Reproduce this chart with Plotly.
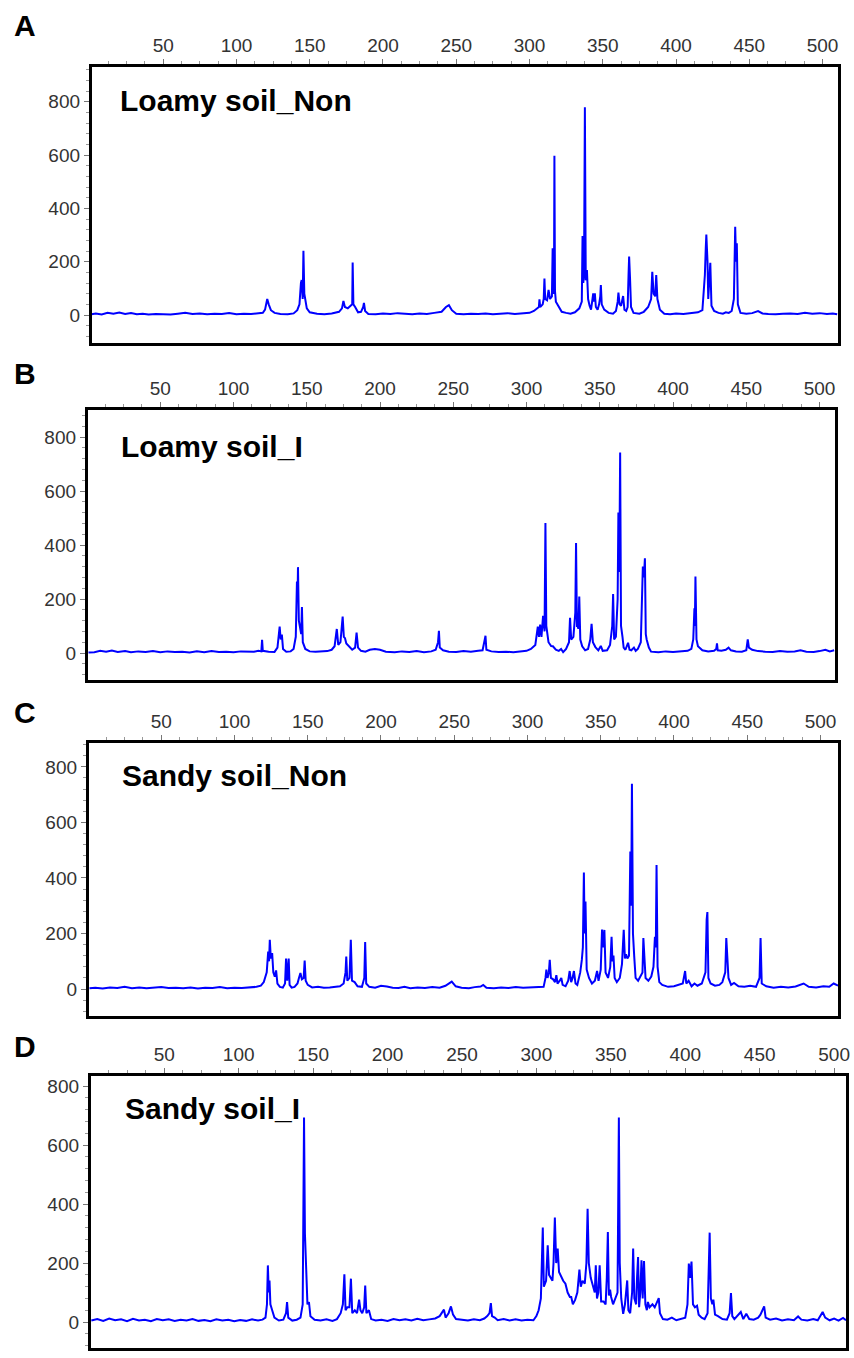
import plotly.graph_objects as go

# peak traces: (size, signal) pairs
loamy_non = [
    (1, 3), (4, 6), (8, 2), (12, 8), (16, 5), (20, 9), (24, 4), (28, 7), (32, 3), (36, 5), (40, 2),
    (45, 4), (50, 3), (55, 2), (60, 5), (65, 8), (70, 4), (75, 6), (80, 3), (85, 5), (90, 4), (95, 7),
    (100, 3), (105, 5), (110, 4), (114, 6), (118, 8), (119.5, 20), (120.5, 55), (121, 60), (122, 40),
    (123.5, 18), (126, 8), (130, 4), (135, 3), (139, 6), (141.5, 18), (143, 40), (144, 120), (144.5, 131),
    (145.2, 60), (145.7, 241), (146.3, 80), (147, 60), (148, 25), (150, 10), (155, 5), (160, 3), (165, 6),
    (170, 12), (172, 25), (173, 53), (174, 30), (176, 25), (178, 35), (179, 40), (179.3, 197), (179.8, 40),
    (181, 30), (183, 10), (185, 12), (186.5, 30), (187, 45), (187.8, 15), (190, 4), (195, 3), (200, 6),
    (205, 4), (210, 7), (215, 5), (220, 3), (225, 6), (230, 4), (235, 8), (240, 12), (243, 30), (245, 37),
    (247, 18), (250, 5), (255, 3), (260, 5), (265, 4), (270, 6), (275, 3), (280, 5), (285, 7), (290, 4),
    (295, 6), (300, 8), (303, 15), (305, 25), (306.4, 30), (306.8, 59), (307.3, 30), (309, 40),
    (309.7, 60), (310.2, 137), (310.7, 60), (312, 55), (313, 94), (314, 60), (315.3, 70), (315.8, 250),
    (316.3, 80), (316.7, 90), (317, 597), (317.4, 90), (318, 50), (320, 30), (322, 12), (325, 8),
    (328, 5), (331, 10), (334, 25), (335.7, 50), (336.2, 296), (336.7, 120), (337.2, 150), (337.8, 779),
    (338.4, 130), (339.2, 169), (340, 60), (341, 35), (342, 20), (343, 60), (343.5, 81), (344, 50),
    (344.6, 81), (345.3, 30), (346.5, 20), (347.5, 40), (348.3, 70), (348.7, 112), (349.3, 40),
    (351, 20), (354, 8), (357, 5), (359, 15), (360.2, 50), (360.7, 84), (361.5, 40), (362.5, 35),
    (363.9, 71), (364.8, 20), (366, 15), (367, 30), (367.6, 150), (368, 219), (368.6, 140), (369.3, 30),
    (371, 8), (375, 5), (378, 12), (381, 30), (383, 60), (383.8, 162), (384.7, 80), (385.8, 70),
    (386.5, 150), (387.3, 60), (389, 20), (392, 5), (396, 3), (400, 6), (405, 4), (410, 7), (415, 10),
    (418, 18), (419.7, 150), (420.3, 250), (420.7, 302), (421.5, 200), (422, 60), (423.4, 196),
    (424.2, 35), (426, 15), (429, 8), (432, 5), (434, 10), (436, 8), (438, 15), (439.5, 60),
    (440.4, 331), (441, 200), (441.5, 269), (442.2, 40), (444, 8), (448, 5), (452, 7), (456, 15),
    (459, 6), (463, 4), (468, 3), (473, 5), (478, 6), (483, 4), (488, 8), (493, 5), (498, 7), (503, 4),
    (507, 6), (510, 3),
]

loamy_i = [
    (1, 2), (5, 3), (9, 8), (13, 5), (17, 9), (21, 4), (26, 7), (30, 3), (35, 6), (40, 4), (45, 7),
    (50, 3), (55, 6), (60, 4), (65, 5), (70, 2), (75, 6), (80, 3), (85, 7), (90, 4), (95, 5), (100, 3),
    (105, 6), (110, 4), (114, 5), (117, 8), (119, 6), (119.5, 49), (120, 8), (124, 5), (128, 4),
    (130, 20), (131.5, 98), (132.2, 50), (133, 68), (133.8, 15), (136, 5), (139, 6), (141, 15),
    (142.5, 60), (143.3, 265), (143.7, 200), (144, 318), (144.6, 120), (145.5, 90), (146.2, 70),
    (146.7, 170), (147.3, 40), (149, 15), (152, 6), (156, 5), (160, 6), (164, 7), (167, 12), (169, 25),
    (170.5, 89), (171.5, 30), (173, 40), (174.5, 135), (175.3, 60), (176.1, 55), (177, 35), (179, 25),
    (181, 12), (183, 20), (184, 76), (185, 20), (187, 8), (190, 5), (193, 12), (196.5, 15), (200, 12),
    (204, 5), (210, 3), (215, 6), (220, 4), (225, 7), (230, 3), (235, 6), (238, 12), (239.6, 40),
    (240.2, 82), (240.8, 20), (243, 10), (247, 5), (252, 4), (257, 7), (262, 5), (267, 8), (270, 10),
    (271.5, 50), (272, 64), (272.6, 12), (276, 6), (281, 4), (286, 5), (291, 3), (296, 7), (300, 8),
    (303, 15), (306, 30), (307.7, 98), (308.5, 60), (309.3, 105), (310.2, 60), (311.3, 138),
    (312.3, 80), (312.9, 481), (313.5, 100), (315, 40), (316.8, 26), (318, 25), (320, 12), (322, 8),
    (323.6, 15), (325, 3), (327, 15), (329, 40), (329.7, 130), (330.5, 50), (332, 60), (333.3, 150),
    (333.8, 407), (334.4, 100), (334.8, 100), (335.4, 90), (336, 209), (336.7, 50), (338, 25),
    (340, 10), (342, 15), (343.5, 50), (344.4, 108), (345.3, 40), (347, 22), (349, 10), (350.7, 26),
    (352, 8), (355, 10), (357, 30), (358.5, 100), (359.1, 218), (359.8, 50), (361, 60), (362.2, 200),
    (362.7, 520), (363.3, 300), (363.9, 743), (364.5, 100), (365.5, 60), (366.3, 20), (367.5, 12),
    (369.3, 38), (370.3, 12), (371.5, 10), (373.3, 20), (374.5, 8), (376, 15), (378, 40), (378.8, 200),
    (379.4, 320), (380.1, 280), (380.8, 351), (381.4, 70), (382, 50), (383.5, 20), (385, 5), (390, 3),
    (395, 6), (400, 4), (405, 7), (410, 8), (412.5, 15), (413.8, 50), (414.6, 166), (414.9, 100),
    (415.3, 283), (416, 50), (417, 25), (420, 10), (424, 6), (428, 8), (429.5, 15), (430, 36),
    (430.5, 10), (433, 8), (436, 12), (437.9, 20), (439.5, 10), (443, 6), (447, 5), (450, 10),
    (451, 50), (451.8, 20), (454, 12), (458, 7), (463, 5), (468, 4), (473, 7), (478, 5), (483, 6),
    (487, 10), (491, 5), (496, 4), (500, 7), (504, 12), (507, 6), (510, 10),
]

sandy_non = [
    (1, 3), (5, 5), (10, 2), (15, 6), (20, 4), (25, 8), (30, 3), (35, 6), (40, 3), (45, 5), (50, 7),
    (55, 4), (60, 5), (65, 3), (70, 6), (75, 2), (80, 5), (85, 4), (90, 7), (95, 3), (100, 5), (105, 4),
    (110, 6), (115, 8), (118, 12), (120, 25), (122, 60), (123, 135), (123.6, 100), (124.1, 177),
    (124.8, 110), (125.7, 130), (126.5, 60), (127.5, 45), (128.4, 67), (129.3, 20), (131, 8), (133, 5),
    (134.5, 20), (135.2, 110), (136, 30), (137, 110), (137.6, 15), (139, 5), (141, 8), (143, 20),
    (144, 40), (145, 58), (146, 35), (147.2, 40), (147.9, 103), (148.6, 30), (150, 15), (153, 6),
    (157, 8), (161, 5), (165, 6), (169, 8), (172, 10), (174.5, 20), (175.8, 60), (176.3, 117),
    (177, 30), (178.5, 40), (179.4, 177), (180.2, 30), (182, 25), (184, 10), (187, 8), (188.6, 40),
    (189.2, 169), (189.9, 20), (192, 8), (196, 5), (200, 12), (204, 9), (208, 5), (212, 4), (216, 8),
    (220, 3), (225, 6), (230, 4), (235, 7), (240, 5), (244, 12), (248.3, 27), (251, 10), (255, 5),
    (260, 3), (264, 7), (268, 9), (269.8, 15), (272, 5), (277, 3), (282, 6), (287, 4), (292, 7),
    (297, 5), (302, 6), (307, 5), (311, 8), (312.3, 40), (312.9, 70), (313.7, 40), (314.6, 60),
    (315.2, 105), (316, 40), (317.5, 35), (318.8, 25), (319.7, 50), (320.5, 20), (322, 30),
    (323.1, 40), (324, 15), (326, 10), (327.8, 30), (328.8, 65), (329.8, 25), (330.8, 40), (331.7, 65),
    (332.8, 20), (334, 15), (336, 60), (337.1, 105), (337.8, 150), (338.5, 420), (339, 200),
    (339.6, 315), (340.4, 70), (342, 40), (344, 20), (346, 30), (347.5, 65), (348.5, 30), (350, 70),
    (350.9, 214), (351.6, 150), (352.5, 213), (353.3, 60), (355, 40), (356.5, 80), (357.4, 188),
    (358, 100), (358.7, 121), (359.5, 40), (361, 25), (363, 40), (364.5, 90), (365.7, 213),
    (366.5, 110), (367.3, 125), (368.2, 110), (369.3, 120), (370.2, 495), (370.8, 300), (371.3, 739),
    (372, 200), (372.9, 114), (373.8, 40), (375.5, 30), (377.5, 50), (378.5, 60), (379.1, 184),
    (379.7, 100), (380.6, 40), (382.5, 30), (384.5, 45), (386, 80), (387, 188), (387.6, 150),
    (388.1, 447), (388.8, 80), (390, 25), (392, 15), (396, 8), (400, 10), (404, 15), (406, 20),
    (407.6, 65), (408.4, 20), (410, 30), (412, 10), (414, 20), (416, 12), (419, 20), (421.5, 60),
    (422.3, 250), (422.8, 277), (423.5, 40), (425, 20), (428, 12), (431, 15), (433, 25), (435, 60),
    (435.7, 184), (436.4, 110), (437.2, 40), (439, 15), (441, 22), (444, 10), (448, 8), (452, 12),
    (456, 8), (458.4, 40), (459.1, 184), (459.9, 20), (463, 10), (468, 5), (473, 8), (478, 6),
    (483, 9), (488.5, 20), (492, 8), (497, 6), (502, 10), (506, 8), (509, 20), (512, 12),
]

sandy_i = [
    (1, 5), (5, 10), (9, 4), (13, 12), (17, 6), (21, 9), (25, 3), (29, 11), (33, 5), (37, 8), (41, 3),
    (45, 10), (49, 6), (53, 9), (57, 4), (61, 8), (65, 5), (69, 10), (73, 4), (77, 7), (81, 3), (85, 9),
    (89, 5), (93, 8), (97, 3), (101, 7), (105, 4), (109, 9), (113, 5), (116, 8), (118, 15), (119, 60),
    (119.6, 192), (120.2, 100), (120.7, 141), (121.3, 60), (122.5, 40), (124, 15), (127, 5), (130, 8),
    (131.8, 30), (132.5, 68), (133.3, 15), (136, 5), (139, 8), (141.5, 15), (143, 60), (143.9, 693),
    (144.5, 300), (145.3, 209), (146.2, 60), (147.2, 68), (148.2, 20), (151, 8), (155, 5), (159, 9),
    (163, 4), (166, 10), (168.5, 30), (170, 60), (171, 162), (171.8, 40), (173, 50), (174.4, 50),
    (175.4, 147), (176.3, 30), (178, 40), (179.5, 30), (180.9, 76), (181.8, 40), (183, 30),
    (184.3, 50), (185, 124), (185.8, 30), (187.5, 40), (189, 10), (192, 5), (196, 8), (200, 4),
    (204, 10), (208, 6), (212, 9), (216, 5), (220, 11), (224, 6), (228, 9), (232, 12), (235, 20),
    (237.9, 42), (239, 15), (241, 30), (242.6, 53), (244, 25), (246, 10), (250, 8), (254, 5), (258, 9),
    (262, 6), (265, 12), (267, 20), (268.5, 30), (269.4, 64), (270.2, 20), (272, 15), (274, 6),
    (278, 10), (282, 5), (286, 9), (290, 5), (294, 8), (298, 6), (300, 20), (301.5, 40), (303, 80),
    (304.3, 320), (305, 120), (306.5, 140), (307.6, 260), (308.5, 160), (309.5, 150), (310.8, 140),
    (311.5, 200), (312.4, 354), (313.3, 200), (314.3, 249), (315.2, 170), (316.6, 153), (318, 140),
    (319.5, 130), (321, 100), (322.5, 85), (323.4, 85), (324.5, 60), (326, 75), (327.5, 100),
    (328.9, 178), (329.8, 120), (331, 140), (332.5, 130), (333.6, 200), (334.4, 384), (335.2, 200),
    (336.5, 150), (338, 120), (339.2, 100), (339.9, 192), (340.7, 80), (341.6, 100), (342.5, 192),
    (343.5, 70), (345.1, 70), (346.5, 60), (347.3, 150), (348, 305), (348.7, 90), (349.5, 110),
    (350.2, 85), (351.5, 60), (353, 80), (354.5, 100), (355.4, 693), (356, 200), (357, 80),
    (358.3, 28), (359.5, 60), (360.4, 100), (361, 141), (361.8, 40), (363, 30), (364.3, 100),
    (365, 249), (365.8, 80), (367, 60), (367.6, 150), (368.3, 220), (369, 50), (369.8, 100),
    (370.6, 209), (371.4, 80), (372.3, 207), (373.2, 60), (374.2, 40), (374.9, 68), (376, 50),
    (378, 60), (379.5, 50), (381, 70), (382.2, 81), (383, 30), (385, 10), (388, 8), (391, 15), (394, 6),
    (397, 10), (400, 15), (401.5, 60), (402.4, 198), (403.2, 150), (404.2, 205), (405.2, 60),
    (406.5, 50), (407.9, 55), (409, 25), (411, 15), (413, 10), (415, 30), (415.8, 150), (416.4, 303),
    (417.2, 80), (418.2, 60), (418.9, 76), (420, 25), (422, 20), (425, 10), (428, 8), (429.8, 30),
    (430.7, 98), (431.6, 20), (433, 10), (435, 20), (437.3, 34), (439, 10), (441, 28), (443, 10),
    (446, 8), (449, 15), (450.5, 25), (453, 53), (454, 15), (457, 8), (461, 12), (465, 5), (469, 9),
    (473, 6), (475.8, 19), (478, 8), (482, 5), (486, 10), (489, 6), (492.3, 34), (494, 15), (497, 6),
    (500, 12), (503, 5), (506, 14), (508, 6),
]

letters = ["A", "B", "C", "D"]
names = ["Loamy soil_Non", "Loamy soil_I", "Sandy soil_Non", "Sandy soil_I"]
series = [loamy_non, loamy_i, sandy_non, sandy_i]
x_ticks = [50, 100, 150, 200, 250, 300, 350, 400, 450, 500]
y_ticks = [0, 200, 400, 600, 800]

W, H = 854, 1358
# box in pixels (left, right, top, bottom), axis ranges
boxes = [
    (92, 842, 67, 343, [1.1, 510.6], [-105, 930]),
    (88, 839, 410, 680, [0.4, 510.6], [-100, 900]),
    (89, 842, 743, 1016, [0.4, 512], [-97, 886]),
    (91, 850, 1076, 1348, [0.5, 508], [-88, 834]),
]
letter_pos = [(25, 25), (25, 373), (25, 712), (25, 1046)]
name_pos = [(119, 101), (120, 447), (121, 775), (124, 1108)]

fig = go.Figure()
layout = {}
annotations = []

for i in range(4):
    n = "" if i == 0 else str(i + 1)
    l, r, t, b, xr, yr = boxes[i]
    xs = [p[0] for p in series[i]]
    ys = [p[1] for p in series[i]]
    fig.add_trace(go.Scatter(x=xs, y=ys, mode="lines", xaxis="x" + n, yaxis="y" + n,
                             line=dict(color="#0000ff", width=2), showlegend=False))

    layout["xaxis" + n] = dict(
        domain=[l / W, r / W], anchor="y" + n, side="top", range=xr,
        tickvals=x_ticks, ticks="outside", ticklen=5, tickwidth=1, tickcolor="#777",
        minor=dict(dtick=12.5, tick0=0, ticks="outside", ticklen=3, tickcolor="#999"),
        showline=True, mirror=True, linecolor="black", linewidth=2.5,
        showgrid=False, zeroline=False,
        tickfont=dict(family="Liberation Sans, Arial", size=19, color="#333"),
    )
    layout["yaxis" + n] = dict(
        domain=[1 - b / H, 1 - t / H], anchor="x" + n, range=yr,
        tickvals=y_ticks, ticks="outside", ticklen=5, tickwidth=1, tickcolor="#777",
        minor=dict(dtick=40, tick0=0, ticks="outside", ticklen=3, tickcolor="#999"),
        showline=True, mirror=True, linecolor="black", linewidth=2.5,
        showgrid=False, zeroline=False,
        tickfont=dict(family="Liberation Sans, Arial", size=19, color="#333"),
    )

    annotations.append(dict(
        text="<b>" + letters[i] + "</b>", xref="paper", yref="paper",
        x=letter_pos[i][0] / W, y=1 - letter_pos[i][1] / H,
        xanchor="center", yanchor="middle", showarrow=False,
        font=dict(family="Liberation Sans, Arial", size=30, color="black"),
    ))
    annotations.append(dict(
        text="<b>" + names[i] + "</b>", xref="paper", yref="paper",
        x=name_pos[i][0] / W, y=1 - name_pos[i][1] / H,
        xanchor="left", yanchor="middle", showarrow=False,
        font=dict(family="Liberation Sans, Arial", size=30, color="black"),
    ))

fig.update_layout(
    width=W, height=H, autosize=False,
    margin=dict(l=0, r=0, t=0, b=0),
    paper_bgcolor="white", plot_bgcolor="white",
    annotations=annotations,
    **layout,
)

# drop the default page margin so the figure sits at the window's corner
fig.write_html("out.html", config={"displayModeBar": False},
               post_script="document.body.style.margin='0px';")
